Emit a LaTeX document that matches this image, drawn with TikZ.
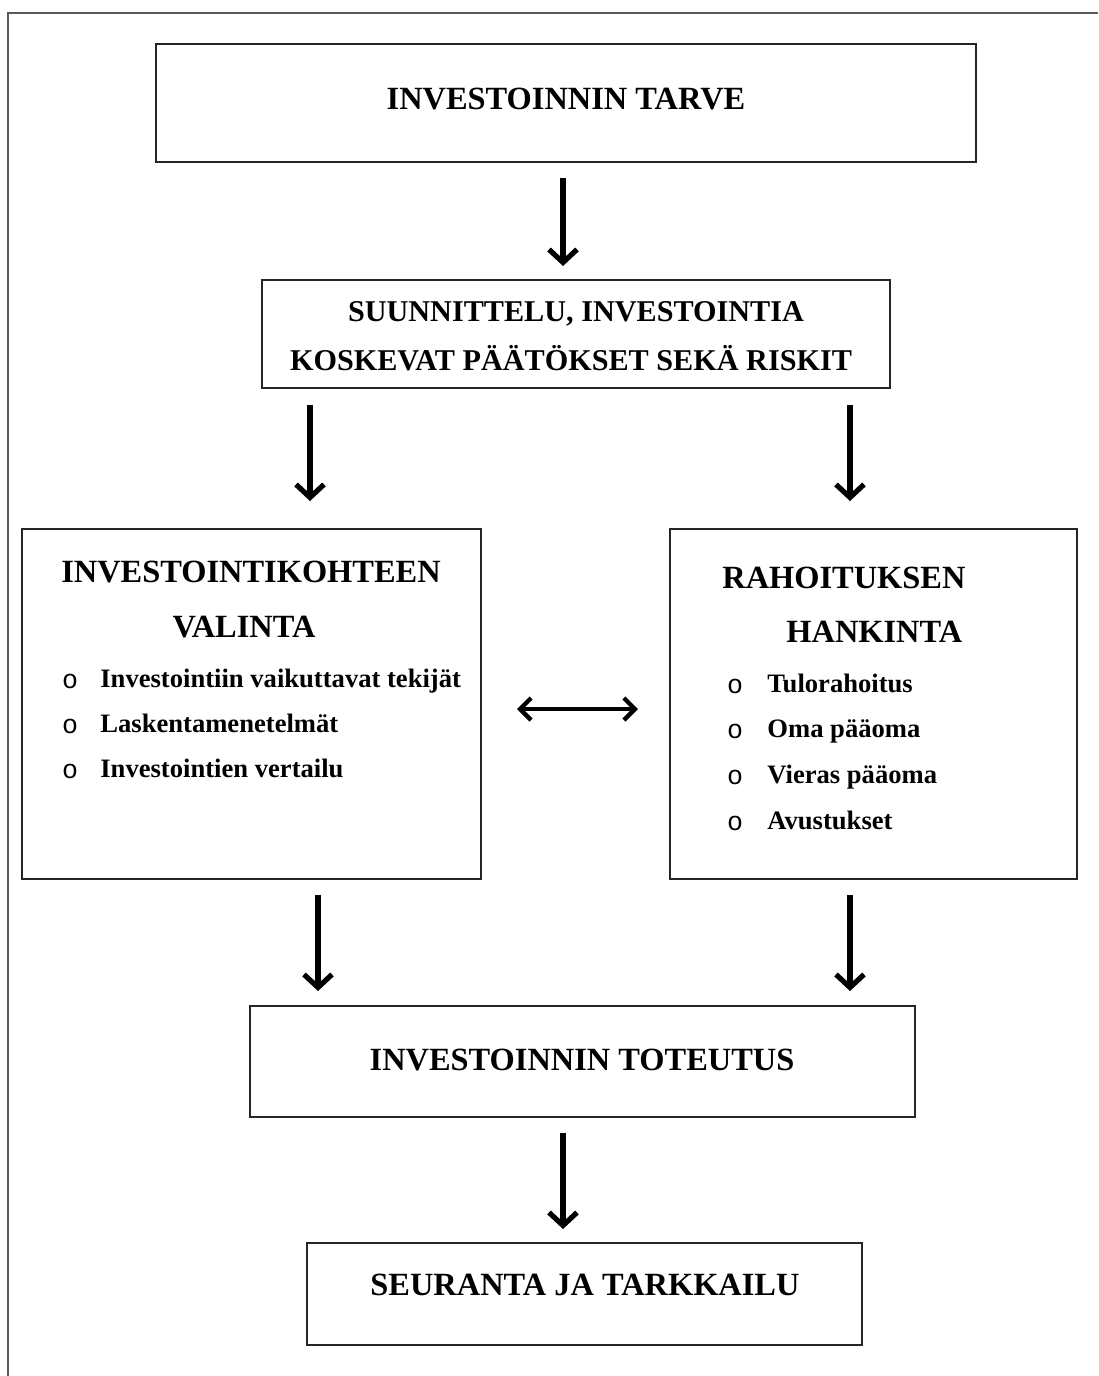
\documentclass[tikz,border=0pt]{standalone}
\usepackage{fontspec}
\setmainfont{Liberation Serif}
\newfontfamily\bulletfont{Liberation Mono}
\usetikzlibrary{arrows.meta}
\tikzset{
  box/.style={draw=black!85, line width=0.75pt, inner sep=0pt},
  arr/.style={line width=2.6pt, -{Straight Barb[length=6.5pt,width=14pt]}},
  darr/.style={line width=2.2pt, {Straight Barb[length=5.5pt,width=11pt]}-{Straight Barb[length=5.5pt,width=11pt]}},
  frame/.style={draw=black!65, line width=0.8pt},
  big/.style={font=\fontsize{16.2}{19}\selectfont\bfseries, inner sep=0pt},
  mid/.style={font=\fontsize{15.1}{18}\selectfont\bfseries, inner sep=0pt},
  item/.style={font=\fontsize{13.3}{16}\selectfont\bfseries, inner sep=0pt, anchor=base west},
  bul/.style={font=\fontsize{13.3}{16}\selectfont\bulletfont, inner sep=0pt, anchor=base},
}
\begin{document}
\begin{tikzpicture}[x=0.5pt,y=-0.5pt]
\useasboundingbox (0,0) rectangle (1098,1376);
% page frame
\draw[frame] (8,1376) -- (8,13) -- (1098,13);
% boxes
\draw[box] (156,44) rectangle (976,162);
\draw[box] (262,280) rectangle (890,388);
\draw[box] (22,529) rectangle (481,879);
\draw[box] (670,529) rectangle (1077,879);
\draw[box] (250,1006) rectangle (915,1117);
\draw[box] (307,1243) rectangle (862,1345);
% texts
\node[big, anchor=base] (t1) at (566,109) {INVESTOINNIN TARVE};
\node[mid, anchor=base] (t2a) at (576,321) {SUUNNITTELU, INVESTOINTIA};
\node[mid, anchor=base] (t2b) at (571,370) {KOSKEVAT PÄÄTÖKSET SEKÄ RISKIT};
\node[big, anchor=base] (t3a) at (251,582) {INVESTOINTIKOHTEEN};
\node[big, anchor=base] (t3b) at (244,637) {VALINTA};
\node[big, anchor=base west] (t4a) at (722,588) {RAHOITUKSEN};
\node[big, anchor=base west] (t4b) at (786,642) {HANKINTA};
\node[bul] (l1b) at (70,688) {o};
\node[item] (l1) at (100,687) {Investointiin vaikuttavat tekijät};
\node[bul] (l2b) at (70,733) {o};
\node[item] (l2) at (100,732) {Laskentamenetelmät};
\node[bul] (l3b) at (70,778) {o};
\node[item] (l3) at (100,777) {Investointien vertailu};
\node[bul] (r1b) at (735,693) {o};
\node[item] (r1) at (767,692) {Tulorahoitus};
\node[bul] (r2b) at (735,738) {o};
\node[item] (r2) at (767,737) {Oma pääoma};
\node[bul] (r3b) at (735,784) {o};
\node[item] (r3) at (767,783) {Vieras pääoma};
\node[bul] (r4b) at (735,830) {o};
\node[item] (r4) at (767,829) {Avustukset};
\node[big, anchor=base] (t5) at (582,1070) {INVESTOINNIN TOTEUTUS};
\node[big, anchor=base] (t6) at (585,1295) {SEURANTA JA TARKKAILU};
% arrow end points
\coordinate (a1s) at (563,178);  \coordinate (a1e) at (563,266);
\coordinate (a2s) at (310,405);  \coordinate (a2e) at (310,501);
\coordinate (a3s) at (850,405);  \coordinate (a3e) at (850,501);
\coordinate (a4s) at (318,895);  \coordinate (a4e) at (318,991);
\coordinate (a5s) at (850,895);  \coordinate (a5e) at (850,991);
\coordinate (a6s) at (563,1133); \coordinate (a6e) at (563,1229);
\coordinate (dl) at (517,709);   \coordinate (dr) at (638,709);
\draw[arr] (a1s) -- (a1e);
\draw[arr] (a2s) -- (a2e);
\draw[arr] (a3s) -- (a3e);
\draw[arr] (a4s) -- (a4e);
\draw[arr] (a5s) -- (a5e);
\draw[arr] (a6s) -- (a6e);
\draw[darr] (dl) -- (dr);
\end{tikzpicture}
\end{document}
